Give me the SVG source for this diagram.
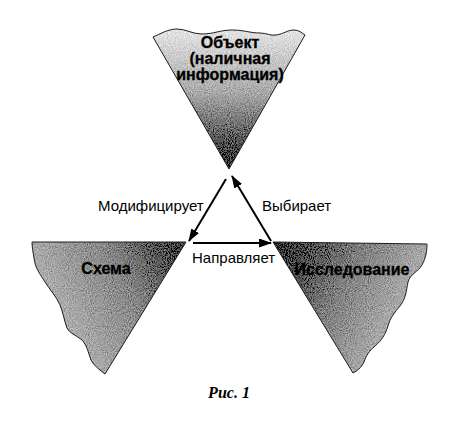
<svg xmlns="http://www.w3.org/2000/svg" width="463" height="433" viewBox="0 0 463 433">
<style>
.outline{fill:none;stroke:#1e1e1e;stroke-width:1}
.node-title{font-family:"Liberation Sans",Arial,sans-serif;font-weight:bold;font-size:16px;fill:#000;text-anchor:middle;stroke:#000;stroke-width:0.3}
.lbl{font-family:"Liberation Sans",Arial,sans-serif;font-size:15px;fill:#000}
.conn{stroke:#000;stroke-width:2;fill:none;marker-end:url(#ah)}
.cap{font-family:"Liberation Serif","Times New Roman",serif;font-weight:bold;font-style:italic;font-size:16px;fill:#000;text-anchor:middle}
</style>
<defs>
<marker id="ah" markerUnits="userSpaceOnUse" markerWidth="13" markerHeight="10" refX="12" refY="4.5" orient="auto">
<path d="M0,0 L13,4.5 L0,9 z" fill="#000"/>
</marker>
<linearGradient id="gTop" x1="0" y1="30" x2="0" y2="170" gradientUnits="userSpaceOnUse">
<stop offset="0" stop-color="#e4e4e4"/>
<stop offset="0.45" stop-color="#a8a8a8"/>
<stop offset="1" stop-color="#222"/>
</linearGradient>
<linearGradient id="gLeft" x1="40" y1="320" x2="180" y2="245" gradientUnits="userSpaceOnUse">
<stop offset="0" stop-color="#b8b8b8"/>
<stop offset="0.6" stop-color="#858585"/>
<stop offset="1" stop-color="#3a3a3a"/>
</linearGradient>
<linearGradient id="gRight" x1="280" y1="245" x2="420" y2="320" gradientUnits="userSpaceOnUse">
<stop offset="0" stop-color="#2e2e2e"/>
<stop offset="0.45" stop-color="#7e7e7e"/>
<stop offset="1" stop-color="#bcbcbc"/>
</linearGradient>
<filter id="grain" x="0" y="0" width="1" height="1">
<feTurbulence type="fractalNoise" baseFrequency="0.95" numOctaves="2" seed="3" result="n"/>
<feColorMatrix in="n" type="matrix" values="1 0 0 0 0 1 0 0 0 0 1 0 0 0 0 0 0 0 0 1" result="g"/>
<feComposite in="g" in2="SourceGraphic" operator="arithmetic" k1="0" k2="0.6" k3="1" k4="-0.3" result="m"/>
<feComposite in="m" in2="SourceAlpha" operator="in"/>
</filter>
<path id="pTop" d="M153,37 C160,34 168,29 177,29 C186,29 192,34 202,34 C214,34 220,30 232,30 C244,30 250,33 260,33 C267,33 270,36 276,35 C284,34 287,30 294,30 C299,30 302,33 305,35 L229,169 Z"/>
<path id="pLeft" d="M32,242 L186,242 L105,374 C100,370 94,366 91,360 C88,352 87,346 83,341 C78,336 70,334 67,328 C64,320 63,312 60,305 C56,296 50,290 45,282 C40,274 35,268 34,258 C33,252 32,247 32,242 Z"/>
<path id="pRight" d="M273,242 L427,244 C427,250 426,258 422,265 C418,272 410,274 408,282 C406,292 406,298 400,306 C395,312 390,318 388,326 C385,335 382,340 375,346 C369,351 366,356 364,362 C361,368 357,371 353,373 Z"/>
</defs>
<g id="node-object">
<use href="#pTop" fill="url(#gTop)" filter="url(#grain)"/>
<use href="#pTop" class="outline"/>
<text class="node-title" x="230" y="48">Объект</text>
<text class="node-title" x="230" y="64">(наличная</text>
<text class="node-title" x="230" y="80">информация)</text>
</g>
<g id="node-schema">
<use href="#pLeft" fill="url(#gLeft)" filter="url(#grain)"/>
<use href="#pLeft" class="outline"/>
<text class="node-title" x="106" y="274">Схема</text>
</g>
<g id="node-research">
<use href="#pRight" fill="url(#gRight)" filter="url(#grain)"/>
<use href="#pRight" class="outline"/>
<text class="node-title" x="352" y="275">Исследование</text>
</g>
<g id="connectors">
<line class="conn" x1="226" y1="179" x2="189" y2="241"/>
<line class="conn" x1="271" y1="241" x2="232" y2="176"/>
<line class="conn" x1="193" y1="243" x2="271" y2="243"/>
<text class="lbl" x="98" y="211">Модифицирует</text>
<text class="lbl" x="262" y="211">Выбирает</text>
<text class="lbl" x="192" y="263">Направляет</text>
</g>
<text class="cap" x="229" y="398">Рис. 1</text>
</svg>
